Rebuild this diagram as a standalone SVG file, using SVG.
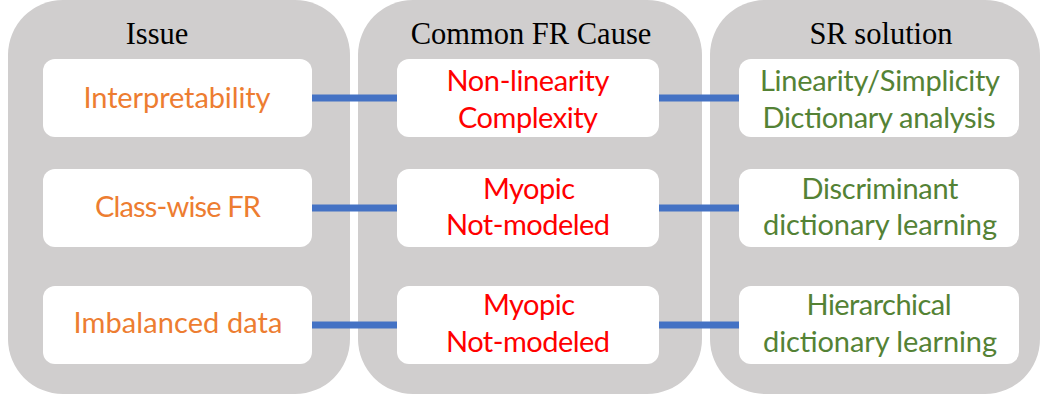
<svg xmlns="http://www.w3.org/2000/svg" width="1042" height="396" viewBox="0 0 1042 396">
<style>
.col{fill:#D0CECE}
.box{fill:#FFFFFF}
.hd{font-family:"Liberation Serif","Times New Roman",serif;font-size:30.5px;fill:#000;text-anchor:middle}
.t{font-family:Lato,"Open Sans",sans-serif;font-size:29px;text-anchor:middle}
.o{fill:#ED7D31}
.r{fill:#FF0000}
.g{fill:#548235}
.con{stroke:#4472C4;stroke-width:7;fill:none}
</style>
<rect width="1042" height="396" fill="#FFFFFF"/>
<g id="col-issue">
<rect class="col" x="8" y="0" width="342" height="394" rx="55"/>
<text class="hd" x="157" y="44">Issue</text>
</g>
<g id="col-cause">
<rect class="col" x="358" y="0" width="344" height="394" rx="55"/>
<text class="hd" x="531" y="44">Common FR Cause</text>
</g>
<g id="col-solution">
<rect class="col" x="710" y="0" width="330" height="394" rx="55"/>
<text class="hd" x="881" y="44">SR solution</text>
</g>
<g id="connectors">
<line class="con" x1="312" y1="98" x2="397" y2="98"/>
<line class="con" x1="659" y1="98" x2="739" y2="98"/>
<line class="con" x1="312" y1="208" x2="397" y2="208"/>
<line class="con" x1="659" y1="208" x2="739" y2="208"/>
<line class="con" x1="312" y1="325" x2="397" y2="325"/>
<line class="con" x1="659" y1="325" x2="739" y2="325"/>
</g>
<g id="issue-1">
<rect class="box" x="43" y="59" width="269" height="78" rx="12"/>
<text class="t o" x="177" y="108" textLength="187">Interpretability</text>
</g>
<g id="issue-2">
<rect class="box" x="43" y="169" width="269" height="78" rx="12"/>
<text class="t o" x="178" y="217" textLength="166">Class-wise FR</text>
</g>
<g id="issue-3">
<rect class="box" x="43" y="286" width="269" height="78" rx="12"/>
<text class="t o" x="178" y="333" textLength="209">Imbalanced data</text>
</g>
<g id="cause-1">
<rect class="box" x="397" y="59" width="262" height="78" rx="12"/>
<text class="t r" x="528" y="91" textLength="163">Non-linearity</text>
<text class="t r" x="528" y="128" textLength="140">Complexity</text>
</g>
<g id="cause-2">
<rect class="box" x="397" y="169" width="262" height="78" rx="12"/>
<text class="t r" x="529" y="199" textLength="92">Myopic</text>
<text class="t r" x="528" y="235" textLength="164">Not-modeled</text>
</g>
<g id="cause-3">
<rect class="box" x="397" y="286" width="262" height="78" rx="12"/>
<text class="t r" x="529" y="315" textLength="92">Myopic</text>
<text class="t r" x="528" y="352" textLength="164">Not-modeled</text>
</g>
<g id="solution-1">
<rect class="box" x="739" y="59" width="280" height="78" rx="12"/>
<text class="t g" x="880" y="91" textLength="240">Linearity/Simplicity</text>
<text class="t g" x="879" y="128" textLength="233">Dictionary analysis</text>
</g>
<g id="solution-2">
<rect class="box" x="739" y="169" width="280" height="78" rx="12"/>
<text class="t g" x="880" y="199" textLength="157">Discriminant</text>
<text class="t g" x="880" y="235" textLength="234">dictionary learning</text>
</g>
<g id="solution-3">
<rect class="box" x="739" y="286" width="280" height="78" rx="12"/>
<text class="t g" x="879" y="315" textLength="145">Hierarchical</text>
<text class="t g" x="880" y="352" textLength="234">dictionary learning</text>
</g>
</svg>
